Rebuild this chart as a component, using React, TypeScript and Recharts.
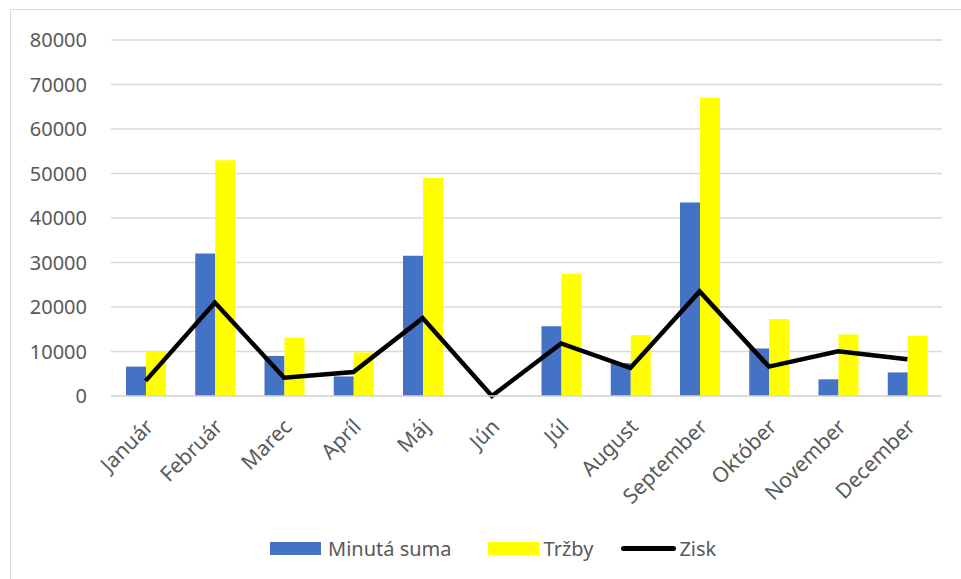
import { ComposedChart, Bar, Line, XAxis, YAxis, CartesianGrid } from 'recharts';

const months = ['Január', 'Február', 'Marec', 'Apríl', 'Máj', 'Jún', 'Júl', 'August', 'September', 'Október', 'November', 'December'];
const minutaSuma = [6600, 32000, 9000, 4400, 31500, 0, 15700, 7400, 43500, 10700, 3750, 5300];
const trzby = [10000, 53000, 13100, 9800, 49000, 0, 27500, 13700, 67000, 17300, 13800, 13550];
const zisk = [3400, 21000, 4100, 5400, 17500, 0, 11800, 6300, 23500, 6600, 10050, 8250];
const yTicks = [0, 10000, 20000, 30000, 40000, 50000, 60000, 70000, 80000];

const data = months.map((m, i) => ({ month: m, minuta: minutaSuma[i], trzby: trzby[i], zisk: zisk[i] }));

const FONT = '"Noto Sans", sans-serif';
const TEXT = '#595959';
const GRID = '#D9D9D9';

function MonthTick({ x, y, payload }: any) {
  return (
    <g transform={`translate(${x + 9},${y + 24})`}>
      <text textAnchor="end" transform="rotate(-45)" fill={TEXT} fontSize={21} fontFamily={FONT}>
        {payload.value}
      </text>
    </g>
  );
}

export default function App() {
  return (
    <div style={{ position: 'absolute', left: 0, top: 0, width: 961, height: 579, background: '#fff', fontFamily: FONT }}>
      <div style={{ position: 'absolute', left: 10, top: 9, right: 0, bottom: 0, borderTop: `1px solid ${GRID}`, borderLeft: `1px solid ${GRID}` }} />
      <div style={{ position: 'absolute', left: 0, top: 0 }}>
        <ComposedChart width={961} height={579} data={data} margin={{ top: 40, right: 19, bottom: 0, left: 0 }} barGap={0}>
          <CartesianGrid vertical={false} stroke={GRID} strokeWidth={1.5} />
          <XAxis dataKey="month" height={183} tickLine={false} axisLine={{ stroke: GRID, strokeWidth: 1.5 }} interval={0} tick={<MonthTick />} />
          <YAxis width={111} domain={[0, 80000]} ticks={yTicks} axisLine={false} tickLine={false} tickSize={0} tickMargin={24}
            tick={{ fill: TEXT, fontSize: 20, fontFamily: FONT }} />
          <Bar dataKey="minuta" fill="#4472C4" barSize={20} isAnimationActive={false} />
          <Bar dataKey="trzby" fill="#FFFF00" barSize={20} isAnimationActive={false} />
          <Line dataKey="zisk" type="linear" stroke="#000" strokeWidth={4.5} dot={false} isAnimationActive={false} />
        </ComposedChart>
      </div>
      <div style={{ position: 'absolute', top: 534, left: 270, display: 'flex', alignItems: 'center', fontSize: 20, color: TEXT, height: 28 }}>
        <span style={{ width: 51, height: 13, background: '#4472C4', marginRight: 7 }} />
        <span style={{ marginRight: 36 }}>Minutá suma</span>
        <span style={{ width: 51, height: 13, background: '#FFFF00', marginRight: 5 }} />
        <span style={{ marginRight: 28 }}>Tržby</span>
        <span style={{ width: 55, height: 5, background: '#000', borderRadius: 3, marginRight: 3 }} />
        <span>Zisk</span>
      </div>
    </div>
  );
}
